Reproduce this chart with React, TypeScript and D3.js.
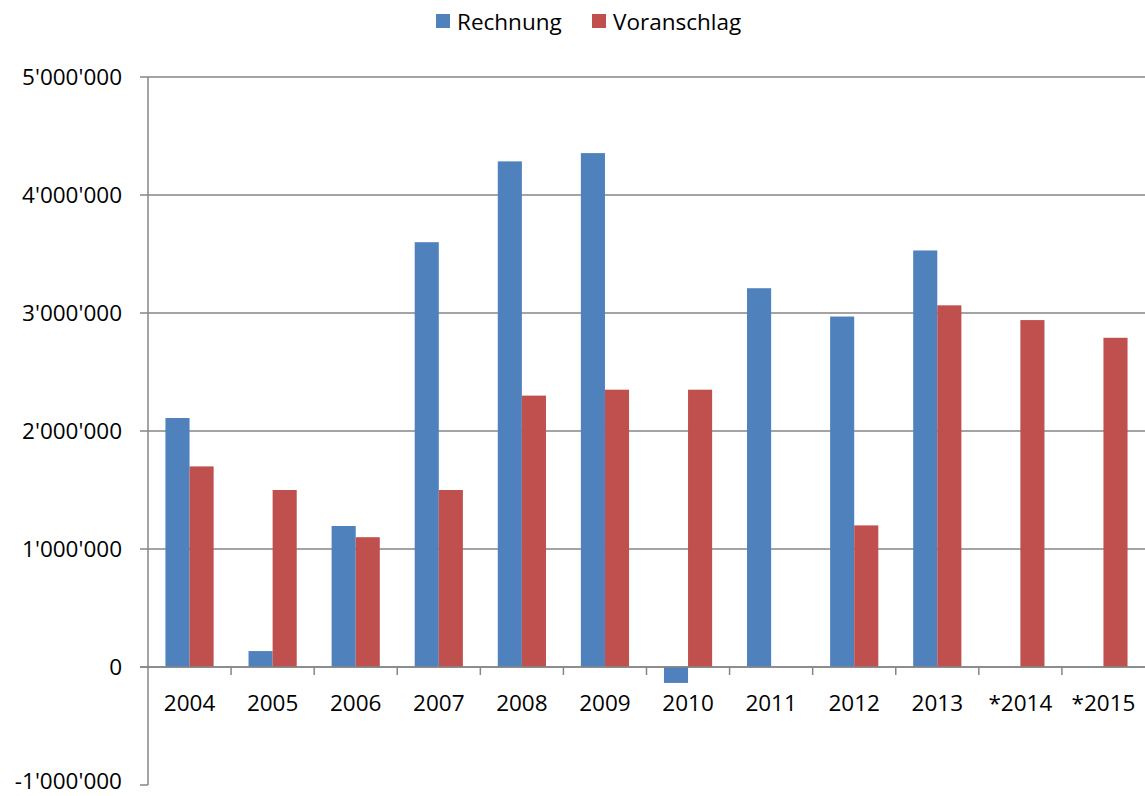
import React from "react";
import * as d3 from "d3";

const categories = ["2004", "2005", "2006", "2007", "2008", "2009", "2010", "2011", "2012", "2013", "*2014", "*2015"];
const rechnung: (number | null)[] = [2110000, 135000, 1195000, 3600000, 4285000, 4355000, -135000, 3210000, 2970000, 3530000, null, null];
const voranschlag: (number | null)[] = [1700000, 1500000, 1100000, 1500000, 2300000, 2350000, 2350000, null, 1200000, 3065000, 2940000, 2790000];
const yTicks = [-1000000, 0, 1000000, 2000000, 3000000, 4000000, 5000000];
const seriesNames = ["Rechnung", "Voranschlag"];
const colors = ["#4F81BD", "#C0504D"];

const W = 1145, H = 796;
const left = 148, right = 1145, top = 77, bottom = 785;
const FONT = "'Open Sans', sans-serif";
const FS = 22.5;

function fmt(v: number) {
  const s = d3.format(",")(v);
  return s.replace(/,/g, "'").replace("−", "-");
}

export default function App() {
  const x = d3.scaleBand<string>().domain(categories).range([left, right]).paddingInner(0.42).paddingOuter(0.21);
  const xs = d3.scaleBand<string>().domain(seriesNames).range([0, x.bandwidth()]);
  const y = d3.scaleLinear().domain([-1000000, 5000000]).range([bottom, top]);
  const step = (right - left) / categories.length;
  const data = [rechnung, voranschlag];
  return (
    <svg width={W} height={H} style={{ position: "absolute", left: 0, top: 0, background: "#fff" }}>
      {yTicks.map((t) => (
        <g key={t}>
          <line x1={140} x2={t === -1000000 ? left : right} y1={y(t)} y2={y(t)} stroke="#868686" strokeWidth={1.5} />
          <text x={122} y={y(t)} dy={t === -1000000 ? "0.18em" : "0.35em"} textAnchor="end" fontFamily={FONT} fontSize={FS} fill="#000">{fmt(t)}</text>
        </g>
      ))}
      {data.map((arr, si) =>
        arr.map((v, i) =>
          v === null ? null : (
            <rect key={si + "-" + i}
              x={(x(categories[i]) as number) + (xs(seriesNames[si]) as number)}
              width={xs.bandwidth()}
              y={Math.min(y(v), y(0))}
              height={Math.abs(y(v) - y(0))}
              fill={colors[si]} />
          )
        )
      )}
      <line x1={140} x2={right} y1={y(0)} y2={y(0)} stroke="#868686" strokeWidth={1.5} />
      <line x1={left} x2={left} y1={top} y2={bottom} stroke="#868686" strokeWidth={1.5} />
      {categories.map((c, i) => (
        <g key={c}>
          {i > 0 && <line x1={left + i * step} x2={left + i * step} y1={y(0)} y2={y(0) + 8} stroke="#868686" strokeWidth={1.5} />}
          <text x={(x(c) as number) + x.bandwidth() / 2} y={711} textAnchor="middle" fontFamily={FONT} fontSize={FS} fill="#000">{c}</text>
        </g>
      ))}
      <g>
        <rect x={436} y={14} width={14} height={14} fill={colors[0]} />
        <text x={457} y={30} fontFamily={FONT} fontSize={FS} fill="#000">{seriesNames[0]}</text>
        <rect x={592} y={14} width={14} height={14} fill={colors[1]} />
        <text x={613} y={30} fontFamily={FONT} fontSize={FS} fill="#000">{seriesNames[1]}</text>
      </g>
    </svg>
  );
}
